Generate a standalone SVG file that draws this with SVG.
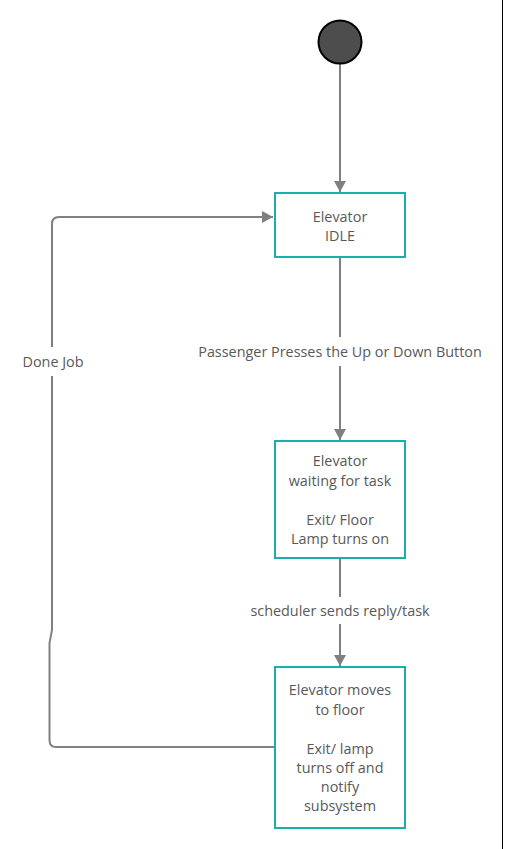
<svg xmlns="http://www.w3.org/2000/svg" width="505" height="849" viewBox="0 0 505 849">
<style>
.node{fill:#ffffff;stroke:#1aafaa;stroke-width:2}
.t{font-family:"Open Sans","Liberation Sans",sans-serif;font-size:14.4px;fill:#595959;text-anchor:middle}
.c{fill:none;stroke:#808080;stroke-width:2}
</style>
<defs>
<marker id="arr" markerUnits="userSpaceOnUse" markerWidth="14" markerHeight="12" refX="11" refY="6" orient="auto">
<path d="M0,0 L11,6 L0,12 z" fill="#808080"/>
</marker>
</defs>
<rect width="505" height="849" fill="#ffffff"/>
<line x1="502.5" y1="0" x2="502.5" y2="849" stroke="#000000" stroke-width="1"/>
<g id="connectors">
<path class="c" d="M340,64 L340,192" marker-end="url(#arr)"/>
<path class="c" d="M340,258 L340,337 M340,366 L340,440" marker-end="url(#arr)"/>
<path class="c" d="M340,559 L340,597 M340,624 L340,666" marker-end="url(#arr)"/>
<path class="c" d="M275,747 L56,747 Q49.5,747 49.5,740 L49.5,643 L52,630 L52,376 M52,347 L52,224 Q52,217 59,217 L273,217" marker-end="url(#arr)"/>
<text class="t" x="340" y="357">Passenger Presses the Up or Down Button</text>
<text class="t" x="340" y="616">scheduler sends reply/task</text>
<text class="t" x="53" y="367">Done Job</text>
</g>
<g id="start">
<circle cx="340" cy="42" r="21.5" fill="#4d4d4d" stroke="#000000" stroke-width="2"/>
</g>
<g id="idle">
<rect class="node" x="275" y="193" width="130" height="64"/>
<text class="t" x="340" y="221.5">Elevator</text>
<text class="t" x="340" y="240.5">IDLE</text>
</g>
<g id="waiting">
<rect class="node" x="275" y="441" width="130" height="117"/>
<text class="t" x="340" y="466">Elevator</text>
<text class="t" x="340" y="485.5">waiting for task</text>
<text class="t" x="340" y="524.5">Exit/ Floor</text>
<text class="t" x="340" y="544">Lamp turns on</text>
</g>
<g id="moves">
<rect class="node" x="275" y="667" width="130" height="161"/>
<text class="t" x="340" y="695">Elevator moves</text>
<text class="t" x="340" y="714.5">to floor</text>
<text class="t" x="340" y="753.5">Exit/ lamp</text>
<text class="t" x="340" y="773">turns off and</text>
<text class="t" x="340" y="792">notify</text>
<text class="t" x="340" y="811">subsystem</text>
</g>
</svg>
